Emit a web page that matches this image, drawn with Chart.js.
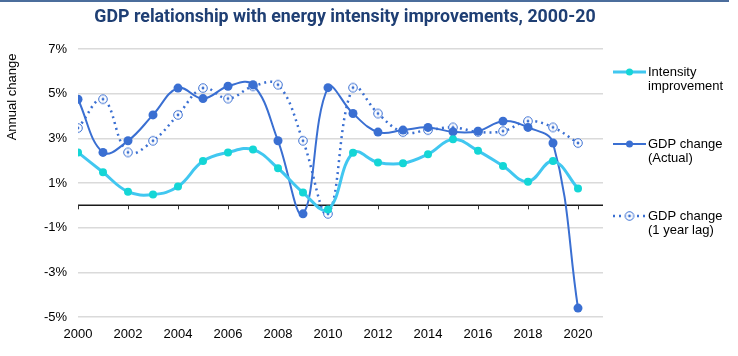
<!DOCTYPE html>
<html>
<head>
<meta charset="utf-8">
<script src="https://cdn.jsdelivr.net/npm/chart.js@4"></script>
<style>
  html, body { margin: 0; padding: 0; background: #ffffff; }
  #wrap { position: relative; width: 738px; height: 356px; }
</style>
</head>
<body>
<div id="wrap"><canvas id="c" width="738" height="356"></canvas></div>
<script>
const chartTitle = "GDP relationship with energy intensity improvements, 2000-20";
const yAxisTitle = "Annual change";
const years = [2000,2001,2002,2003,2004,2005,2006,2007,2008,2009,2010,2011,2012,2013,2014,2015,2016,2017,2018,2019,2020];
const intensityImprovement = [2.37,1.48,0.61,0.48,0.84,1.98,2.37,2.5,1.66,0.57,-0.19,2.35,1.92,1.88,2.29,2.96,2.44,1.76,1.06,1.98,0.75];
const gdpActual = [4.75,2.37,2.89,4.05,5.25,4.78,5.33,5.4,2.89,-0.38,5.27,4.11,3.28,3.37,3.49,3.29,3.32,3.77,3.49,2.79,-4.6];
const gdpLag = [3.46,4.75,2.37,2.89,4.05,5.25,4.78,5.33,5.4,2.89,-0.38,5.27,4.11,3.28,3.37,3.49,3.29,3.32,3.77,3.49,2.79];
const seriesNames = [["Intensity", "improvement"], ["GDP change", "(Actual)"], ["GDP change", "(1 year lag)"]];
const yTicks = [-5,-3,-1,1,3,5,7];

const CYAN_LINE = '#41c7f0';
const CYAN_PT = '#14d6d6';
const BLUE = '#3a6fd2';
const FONT = '"Liberation Sans", Arial, sans-serif';

function toPoints(vals) { return years.map((yr, i) => ({ x: yr, y: vals[i] })); }

// hollow circle with centre dot, for the lag series
function lagMarker() {
  const c = document.createElement('canvas');
  c.width = 12; c.height = 12;
  const g = c.getContext('2d');
  g.beginPath(); g.arc(6, 6, 4.3, 0, Math.PI * 2);
  g.fillStyle = '#fff'; g.fill();
  g.lineWidth = 1; g.strokeStyle = BLUE; g.stroke();
  g.beginPath(); g.arc(6, 6, 1.4, 0, Math.PI * 2);
  g.fillStyle = BLUE; g.fill();
  return c;
}
const lagImg = lagMarker();

const decor = {
  id: 'decor',
  beforeDatasetsDraw(chart) {
    const { ctx, chartArea, scales } = chart;
    const y0 = scales.y.getPixelForValue(0);
    ctx.save();
    ctx.strokeStyle = '#1a1a1a';
    ctx.lineWidth = 1.5;
    ctx.beginPath();
    ctx.moveTo(chartArea.left, y0);
    ctx.lineTo(chartArea.right, y0);
    ctx.stroke();
    ctx.lineWidth = 1;
    ctx.strokeStyle = '#333';
    scales.x.ticks.forEach(t => {
      const px = Math.round(scales.x.getPixelForValue(t.value)) + 0.5;
      ctx.beginPath();
      ctx.moveTo(px, y0);
      ctx.lineTo(px, y0 + 4);
      ctx.stroke();
    });
    ctx.restore();
  },
  afterDraw(chart) {
    const { ctx } = chart;
    ctx.save();
    // top rule
    ctx.fillStyle = '#4b6d9c';
    ctx.fillRect(0, 0, 729, 2);
    // title
    ctx.fillStyle = '#1f3f74';
    ctx.font = 'bold 17.8px Roboto, ' + FONT;
    ctx.textAlign = 'center';
    ctx.textBaseline = 'middle';
    ctx.fillText(chartTitle, 345, 18);
    // y axis title
    ctx.save();
    ctx.translate(12, 97);
    ctx.rotate(-Math.PI / 2);
    ctx.font = '13px ' + FONT;
    ctx.fillStyle = '#000';
    ctx.fillText(yAxisTitle, 0, 0);
    ctx.restore();
    // legend
    const items = [
      { y: 72, color: CYAN_LINE, width: 3, dash: [], pt: 'cyan' },
      { y: 144, color: BLUE, width: 2, dash: [], pt: 'blue' },
      { y: 216, color: BLUE, width: 2.5, dash: [2, 4], pt: 'lag' }
    ];
    ctx.textAlign = 'left';
    ctx.font = '13px ' + FONT;
    items.forEach((it, i) => {
      ctx.save();
      ctx.strokeStyle = it.color;
      ctx.lineWidth = it.width;
      ctx.setLineDash(it.dash);
      ctx.beginPath();
      ctx.moveTo(613, it.y);
      ctx.lineTo(646, it.y);
      ctx.stroke();
      ctx.restore();
      if (it.pt === 'cyan') {
        ctx.beginPath(); ctx.arc(629.5, it.y, 3.5, 0, Math.PI * 2);
        ctx.fillStyle = CYAN_PT; ctx.fill();
      } else if (it.pt === 'blue') {
        ctx.beginPath(); ctx.arc(629.5, it.y, 3.5, 0, Math.PI * 2);
        ctx.fillStyle = BLUE; ctx.fill();
      } else {
        ctx.drawImage(lagImg, 629.5 - 6, it.y - 6);
      }
      ctx.fillStyle = '#000';
      ctx.fillText(seriesNames[i][0], 648, it.y);
      ctx.fillText(seriesNames[i][1], 648, it.y + 14.5);
    });
    ctx.restore();
  }
};

new Chart(document.getElementById('c'), {
  type: 'line',
  data: {
    datasets: [
      {
        label: seriesNames[0].join(' '),
        data: toPoints(intensityImprovement),
        borderColor: CYAN_LINE,
        backgroundColor: CYAN_PT,
        pointBackgroundColor: CYAN_PT,
        pointBorderColor: CYAN_PT,
        borderWidth: 3,
        pointRadius: 4,
        pointBorderWidth: 0,
        tension: 0.4,
        fill: false
      },
      {
        label: seriesNames[1].join(' '),
        data: toPoints(gdpActual),
        borderColor: BLUE,
        backgroundColor: BLUE,
        pointBackgroundColor: BLUE,
        pointBorderColor: BLUE,
        borderWidth: 2,
        pointRadius: 4.5,
        pointBorderWidth: 0,
        tension: 0.4,
        fill: false
      },
      {
        label: seriesNames[2].join(' '),
        data: toPoints(gdpLag),
        borderColor: BLUE,
        backgroundColor: '#fff',
        borderWidth: 2.5,
        borderDash: [2, 4],
        pointStyle: lagImg,
        pointRadius: 5,
        tension: 0.4,
        fill: false
      }
    ]
  },
  options: {
    responsive: false,
    animation: false,
    devicePixelRatio: 1,
    layout: { autoPadding: false, padding: { top: 49, right: 135, left: 0, bottom: 0 } },
    plugins: {
      legend: { display: false },
      title: { display: false },
      tooltip: { enabled: false }
    },
    scales: {
      x: {
        type: 'linear',
        min: 2000,
        max: 2021,
        grid: { display: false },
        border: { display: false },
        ticks: {
          stepSize: 2,
          includeBounds: false,
          padding: 2,
          color: '#000',
          font: { family: FONT, size: 13 },
          callback: v => String(v),
          maxRotation: 0
        },
        afterFit: s => { s.height = 39; }
      },
      y: {
        min: -5,
        max: 7,
        afterBuildTicks: s => { s.ticks = yTicks.map(v => ({ value: v })); },
        grid: { color: '#dadada', lineWidth: 1.5, drawTicks: false },
        border: { display: false },
        ticks: {
          padding: 11,
          color: '#000',
          font: { family: FONT, size: 13 },
          callback: v => v + '%'
        },
        afterFit: s => { s.width = 78; }
      }
    }
  },
  plugins: [decor]
});
</script>
</body>
</html>
